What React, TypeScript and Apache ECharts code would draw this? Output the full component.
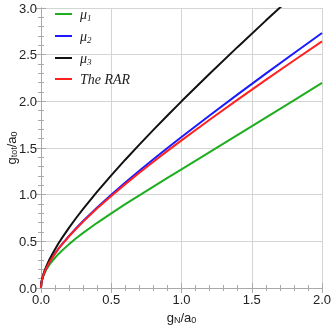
import React, { useEffect, useRef } from "react";
import * as echarts from "echarts";

const gN = [0, 0.002, 0.005, 0.01, 0.02, 0.03, 0.04, 0.06, 0.08, 0.1, 0.125, 0.15, 0.2, 0.25, 0.3, 0.4, 0.5, 0.6, 0.7, 0.8, 0.9, 1.0, 1.2, 1.4, 1.6, 1.8, 2.0];
const mu1 = [0, 0.0447, 0.0708, 0.1002, 0.1421, 0.1741, 0.202, 0.2507, 0.2886, 0.3242, 0.3652, 0.4021, 0.4701, 0.5322, 0.5902, 0.6985, 0.8002, 0.898, 0.9933, 1.087, 1.1798, 1.272, 1.4558, 1.6398, 1.8246, 2.0104, 2.1974];
const mu2 = [0, 0.0457, 0.0733, 0.1051, 0.1518, 0.1894, 0.221, 0.2768, 0.3257, 0.3702, 0.4218, 0.4695, 0.5583, 0.6404, 0.7179, 0.8633, 1.0, 1.1307, 1.2569, 1.3798, 1.5, 1.618, 1.849, 2.0748, 2.2967, 2.5155, 2.7321];
const mu3 = [0, 0.0467, 0.0757, 0.11, 0.1614, 0.2032, 0.24, 0.3049, 0.3628, 0.4162, 0.4786, 0.5373, 0.6472, 0.75, 0.8477, 1.0325, 1.2071, 1.3746, 1.5367, 1.6944, 1.8487, 2.0, 2.2954, 2.5832, 2.8649, 3.1416, 3.4142];
const rar = [0, 0.0457, 0.0732, 0.1051, 0.1517, 0.1892, 0.2207, 0.2761, 0.3247, 0.3689, 0.4206, 0.4672, 0.5546, 0.6354, 0.7114, 0.8534, 0.9863, 1.113, 1.2349, 1.3533, 1.4688, 1.582, 1.8029, 2.0182, 2.2292, 2.4371, 2.6424];

const seriesNames = ["mu1", "mu2", "mu3", "rar"];
const seriesColors = ["#1fae1f", "#1a1aff", "#111111", "#ff2020"];
const seriesData = [mu1, mu2, mu3, rar];
const legendLabels: Record<string, string> = {
  mu1: "{m|μ}{s|1}",
  mu2: "{m|μ}{s|2}",
  mu3: "{m|μ}{s|3}",
  rar: "{m|The RAR}",
};

export default function App() {
  const ref = useRef<HTMLDivElement>(null);
  useEffect(() => {
    if (!ref.current) return;
    const chart = echarts.init(ref.current, undefined, { renderer: "svg" });
    const frame = "#aaaaaa";
    const sans = "Liberation Sans, Arial, sans-serif";
    const labelStyle = { color: "#222", fontSize: 13, fontFamily: sans };
    const common = {
      axisLine: { show: true, lineStyle: { color: frame, width: 1 } },
      axisTick: { show: true, inside: true, length: 5, lineStyle: { color: frame } },
      minorTick: { show: true, splitNumber: 5, length: 3, lineStyle: { color: frame } },
    };
    const nameRich = {
      g: { fontSize: 13, color: "#222", fontFamily: sans, lineHeight: 16 },
      s: { fontSize: 9, color: "#222", fontFamily: sans, padding: [6, 0, 0, 0], lineHeight: 16 },
    };
    chart.setOption({
      animation: false,
      grid: { left: 41, right: 10, top: 8, bottom: 39, containLabel: false, outerBoundsMode: "none" },
      legend: {
        orient: "vertical",
        left: 55,
        top: 6,
        padding: 0,
        itemWidth: 17,
        itemHeight: 2,
        itemGap: 6,
        icon: "rect",
        data: seriesNames,
        formatter: (n: string) => legendLabels[n],
        textStyle: {
          padding: [0, 0, 0, 3],
          rich: {
            m: { fontFamily: "Liberation Serif, serif", fontStyle: "italic", fontSize: 14, color: "#222", lineHeight: 16 },
            s: { fontFamily: "Liberation Serif, serif", fontStyle: "italic", fontSize: 9, color: "#222", padding: [7, 0, 0, 0], lineHeight: 16 },
          },
        },
      },
      xAxis: [
        {
          type: "value",
          min: 0,
          max: 2,
          interval: 0.5,
          ...common,
          axisLabel: { ...labelStyle, margin: 5, formatter: (v: number) => v.toFixed(1) },
          splitLine: { show: true, lineStyle: { color: "#d4d4d4" } },
          name: "{g|g}{s|N}{g|/a}{s|0}",
          nameLocation: "middle",
          nameGap: 21,
          nameMoveOverlap: false,
          nameTextStyle: { rich: nameRich },
        },
        {
          type: "value",
          position: "top",
          min: 0,
          max: 2,
          interval: 0.5,
          ...common,
          axisLabel: { show: false },
          splitLine: { show: false },
        },
      ],
      yAxis: [
        {
          type: "value",
          min: 0,
          max: 3,
          interval: 0.5,
          ...common,
          axisLabel: { ...labelStyle, margin: 4, formatter: (v: number) => v.toFixed(1) },
          splitLine: { show: true, lineStyle: { color: "#d4d4d4" } },
          name: "{g|g}{s|tot}{g|/a}{s|0}",
          nameLocation: "middle",
          nameGap: 22,
          nameMoveOverlap: false,
          nameTextStyle: { rich: nameRich },
        },
        {
          type: "value",
          position: "right",
          min: 0,
          max: 3,
          interval: 0.5,
          ...common,
          axisLabel: { show: false },
          splitLine: { show: false },
        },
      ],
      series: seriesNames.map((name, i) => ({
        name,
        type: "line",
        showSymbol: false,
        smooth: false,
        clip: true,
        color: seriesColors[i],
        lineStyle: { width: 2, color: seriesColors[i] },
        data: gN.map((x, j) => [x, seriesData[i][j]]),
      })),
    });
    return () => chart.dispose();
  }, []);
  return <div ref={ref} style={{ position: "fixed", left: 0, top: 0, width: 332, height: 327 }} />;
}
